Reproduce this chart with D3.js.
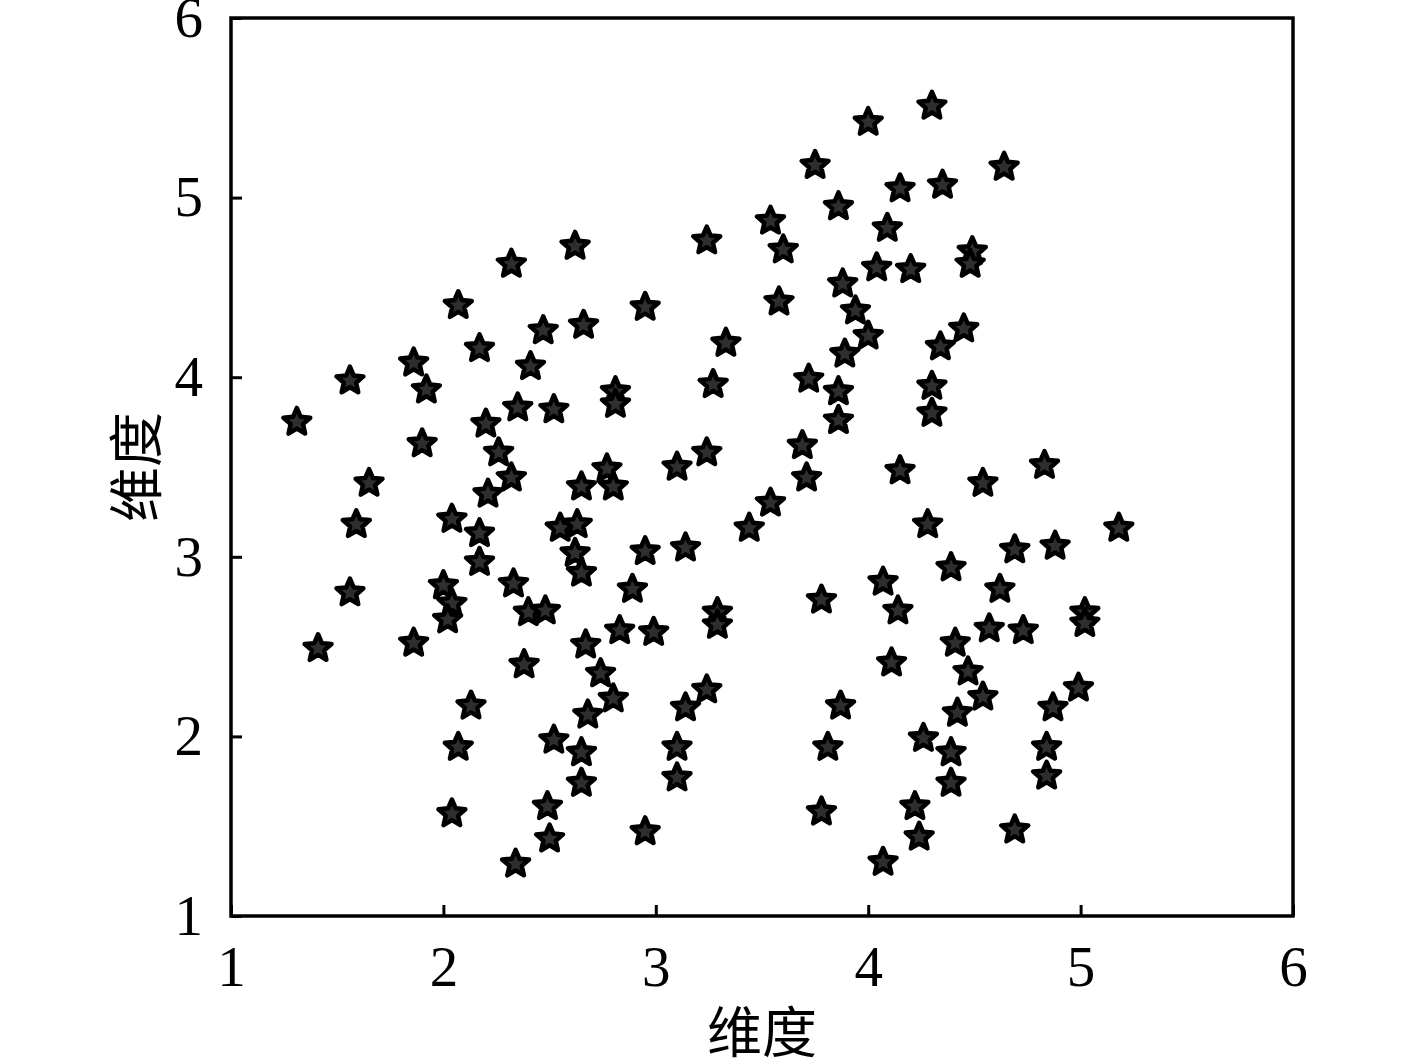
<!DOCTYPE html>
<html>
<head>
<meta charset="utf-8">
<script src="https://cdn.jsdelivr.net/npm/d3@7"></script>
<style>
  body { margin: 0; background: #fff; }
  .tick text { font-family: "Liberation Serif", "Times New Roman", serif; font-size: 57px; fill: #000; }
  .axisTitle { font-family: "Noto Sans CJK SC", sans-serif; font-size: 55px; fill: #000; }
</style>
</head>
<body>
<div class="chart"></div>
<script>
// scatter of 维度 vs 维度, star markers

var xTicks = [1, 2, 3, 4, 5, 6];
var yTicks = [1, 2, 3, 4, 5, 6];
var xTitle = "维度";
var yTitle = "维度";

var xValues = [
  1.31, 1.41, 1.56, 1.56, 1.59, 1.65, 1.86, 1.86, 1.92, 1.90,
  2.04, 2.00, 2.04, 2.02, 2.04, 2.07, 2.07, 2.13, 2.17, 2.20,
  2.17, 2.17, 2.21, 2.26, 2.32, 2.33, 2.32, 2.35, 2.38, 2.41,
  2.40, 2.48, 2.47, 2.52, 2.52, 2.49, 2.50, 2.34, 2.62, 2.66,
  2.55, 2.63, 2.62, 2.65, 2.65, 2.67, 2.68, 2.65, 2.65, 2.74,
  2.77, 2.80, 2.80, 2.81, 2.81, 2.83, 2.89, 2.95, 2.95, 2.99,
  2.95, 3.10, 3.14, 3.14, 3.10, 3.10, 3.24, 3.27, 3.24, 3.24,
  3.29, 3.29, 3.33, 3.44, 3.54, 3.60, 3.58, 3.54, 3.69, 3.72,
  3.71, 3.75, 3.78, 3.81, 3.78, 3.86, 3.88, 3.86, 3.86, 3.87,
  3.89, 3.94, 4.00, 4.00, 4.04, 4.09, 4.15, 4.20, 4.07, 4.14,
  4.11, 4.07, 4.15, 4.26, 4.22, 4.24, 4.28, 4.30, 4.35, 4.34,
  4.30, 4.30, 4.39, 4.41, 4.39, 4.39, 4.42, 4.45, 4.47, 4.49,
  4.48, 4.54, 4.54, 4.57, 4.62, 4.64, 4.69, 4.73, 4.69, 4.83,
  4.88, 4.87, 4.84, 4.84, 4.99, 5.02, 5.02, 5.18
];

var yValues = [
  3.75, 2.49, 3.98, 2.80, 3.18, 3.41, 4.08, 2.52, 3.93, 3.63,
  3.21, 2.84, 2.74, 2.65, 1.57, 4.40, 1.94, 2.17, 4.16, 3.74,
  3.13, 2.97, 3.35, 3.58, 3.44, 2.85, 4.63, 3.83, 2.40, 4.06,
  2.69, 2.70, 4.26, 3.82, 1.98, 1.61, 1.43, 1.29, 4.73, 4.29,
  3.16, 3.18, 3.02, 2.91, 3.39, 2.51, 2.12, 1.91, 1.74, 2.35,
  3.49, 3.39, 2.21, 3.92, 3.85, 2.59, 2.82, 4.39, 3.03, 2.58,
  1.47, 3.50, 3.05, 2.16, 1.94, 1.77, 4.76, 3.96, 3.58, 2.26,
  2.69, 2.62, 4.19, 3.16, 4.87, 4.71, 4.42, 3.30, 3.62, 3.99,
  3.44, 5.18, 2.76, 1.94, 1.58, 4.95, 4.52, 3.92, 3.76, 2.17,
  4.13, 4.37, 5.42, 4.23, 4.61, 4.83, 5.05, 4.60, 2.86, 2.70,
  2.41, 1.30, 3.48, 1.99, 1.61, 1.44, 3.18, 5.51, 5.07, 4.17,
  3.95, 3.80, 2.94, 2.52, 1.91, 1.74, 2.13, 4.27, 2.36, 4.70,
  4.63, 2.22, 3.41, 2.60, 2.82, 5.17, 3.04, 2.59, 1.48, 3.51,
  3.06, 2.16, 1.94, 1.78, 2.27, 2.69, 2.63, 3.16
];

var points = xValues.map(function(x, i) { return { x: x, y: yValues[i] }; });

var svgWidth = 1417;
var svgHeight = 1063;
var margin = { top: 18, right: 124, bottom: 147, left: 231 };
var width = svgWidth - margin.left - margin.right;
var height = svgHeight - margin.top - margin.bottom;

var svg = d3.select(".chart")
  .append("svg")
  .attr("width", svgWidth)
  .attr("height", svgHeight)
  .append("g")
  .attr("transform", "translate(" + margin.left + "," + margin.top + ")");

var xScale = d3.scaleLinear().domain([1, 6]).range([0, width]);
var yScale = d3.scaleLinear().domain([1, 6]).range([height, 0]);

// axes with inward ticks
var bottomAxis = d3.axisBottom(xScale)
  .tickValues(xTicks)
  .tickFormat(d3.format("d"))
  .tickSizeInner(-11)
  .tickSizeOuter(0)
  .tickPadding(30);

var leftAxis = d3.axisLeft(yScale)
  .tickValues(yTicks)
  .tickFormat(d3.format("d"))
  .tickSizeInner(-11)
  .tickSizeOuter(0)
  .tickPadding(28);

var gx = svg.append("g")
  .attr("transform", "translate(0," + height + ")")
  .call(bottomAxis);
var gy = svg.append("g").call(leftAxis);

[gx, gy].forEach(function(g) {
  g.select(".domain").remove();
  g.selectAll(".tick line").attr("stroke", "#000").attr("stroke-width", 3);
});

// frame
svg.append("rect")
  .attr("x", 0)
  .attr("y", 0)
  .attr("width", width)
  .attr("height", height)
  .attr("fill", "none")
  .attr("stroke", "#000")
  .attr("stroke-width", 3.5);

// plumper five-point star than d3.symbolStar
var fatStar = {
  draw: function(context, size) {
    var r = Math.sqrt(size / 2.6);
    var ri = r * 0.46;
    for (var i = 0; i < 10; i++) {
      var rad = i % 2 ? ri : r;
      var a = -Math.PI / 2 + i * Math.PI / 5;
      var px = rad * Math.cos(a), py = rad * Math.sin(a);
      if (i === 0) context.moveTo(px, py); else context.lineTo(px, py);
    }
    context.closePath();
  }
};

var star = d3.symbol().type(fatStar).size(520);

svg.append("g")
  .selectAll("path")
  .data(points)
  .enter().append("path")
    .attr("d", star)
    .attr("transform", function(d) {
      return "translate(" + xScale(d.x) + "," + yScale(d.y) + ")";
    })
    .attr("fill", "#2e2e2e")
    .attr("stroke", "#000")
    .attr("stroke-width", 4.5)
    .attr("stroke-linejoin", "round");

// axis titles
svg.append("text")
  .attr("class", "axisTitle")
  .attr("x", width / 2)
  .attr("y", height + 136)
  .attr("text-anchor", "middle")
  .text(xTitle);

svg.append("text")
  .attr("class", "axisTitle")
  .attr("transform", "rotate(-90)")
  .attr("x", -height / 2)
  .attr("y", -75)
  .attr("text-anchor", "middle")
  .text(yTitle);
</script>
</body>
</html>
